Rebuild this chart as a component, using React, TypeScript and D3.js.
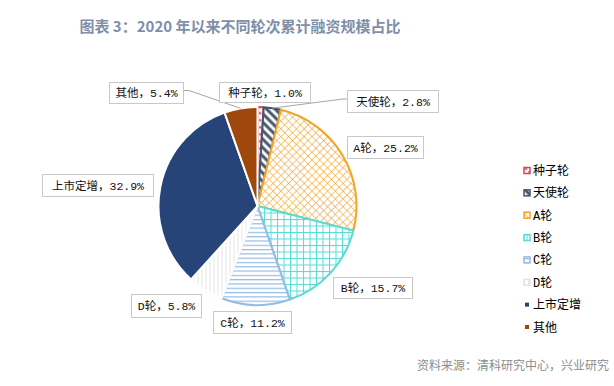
import * as d3 from "d3";

const rounds = ["种子轮", "天使轮", "A轮", "B轮", "C轮", "D轮", "上市定增", "其他"];
const shares = [1.0, 2.8, 25.2, 15.7, 11.2, 5.8, 32.9, 5.4];
const colors = ["#D2455B", "#44546A", "#F5A325", "#55DCD6", "#94BCE3", "#E4E4E4", "#264478", "#9E480E"];
const fills = ["url(#p-seed)", "url(#p-angel)", "url(#p-a)", "url(#p-b)", "url(#p-c)", "url(#p-d)", "#264478", "#9E480E"];

// label boxes: left, top, width, height
const labelBoxes = [
  [219, 82, 91, 20],
  [347, 90, 91, 22],
  [347, 136, 76, 22],
  [333, 277, 79, 21],
  [213, 311, 78, 22],
  [131, 294, 70, 23],
  [42, 174, 111, 22],
  [109, 82, 74, 21],
];

const width = 614, height = 386;
const cx = 257.5, cy = 206, radius = 99;

export default function App() {
  const pie = d3.pie<number>().sort(null).startAngle(0).endAngle(2 * Math.PI);
  const arcs = pie(shares);
  const arc = d3.arc<d3.PieArcDatum<number>>().innerRadius(0).outerRadius(radius);
  const edge = (a: d3.PieArcDatum<number>) => {
    const m = (a.startAngle + a.endAngle) / 2;
    return [cx + radius * Math.sin(m), cy - radius * Math.cos(m)];
  };

  const legendY = d3.scalePoint<number>().domain(d3.range(rounds.length)).range([170.5, 327]);
  const labelFont = "'Liberation Mono', 'Noto Sans CJK SC', monospace";

  return (
    <svg width={width} height={height} style={{ position: "absolute", left: 0, top: 0, background: "#fff" }}>
      <defs>
        <pattern id="p-seed" width="5" height="5" patternUnits="userSpaceOnUse" patternTransform="rotate(-45)">
          <rect width="5" height="5" fill="#fff" />
          <line x1="2.5" y1="0" x2="2.5" y2="2.5" stroke={colors[0]} strokeWidth="2" />
        </pattern>
        <pattern id="p-angel" width="6" height="6" patternUnits="userSpaceOnUse" patternTransform="rotate(-45)">
          <rect width="6" height="6" fill="#fff" />
          <line x1="3" y1="0" x2="3" y2="6" stroke={colors[1]} strokeWidth="3" />
        </pattern>
        <pattern id="p-a" width="5.5" height="5.5" patternUnits="userSpaceOnUse" patternTransform="rotate(45)">
          <rect width="5.5" height="5.5" fill="#fff" />
          <line x1="0" y1="0" x2="0" y2="5.5" stroke={colors[2]} strokeWidth="1.2" />
          <line x1="0" y1="0" x2="5.5" y2="0" stroke={colors[2]} strokeWidth="1.2" />
        </pattern>
        <pattern id="p-b" width="6.5" height="6.5" patternUnits="userSpaceOnUse">
          <rect width="6.5" height="6.5" fill="#fff" />
          <line x1="0.5" y1="0" x2="0.5" y2="6.5" stroke={colors[3]} strokeWidth="1" />
          <line x1="0" y1="0.5" x2="6.5" y2="0.5" stroke={colors[3]} strokeWidth="1" />
        </pattern>
        <pattern id="p-c" width="4" height="4.3" patternUnits="userSpaceOnUse">
          <rect width="4" height="4.3" fill="#fff" />
          <line x1="0" y1="0.6" x2="4" y2="0.6" stroke={colors[4]} strokeWidth="1.2" />
        </pattern>
        <pattern id="p-d" width="4" height="4" patternUnits="userSpaceOnUse">
          <rect width="4" height="4" fill="#fff" />
          <line x1="0.5" y1="0" x2="0.5" y2="4" stroke={colors[5]} strokeWidth="1" />
        </pattern>
      </defs>

      <text x={240} y={32} textAnchor="middle" fontFamily="'Noto Sans CJK SC', sans-serif" fontSize={15} fontWeight="bold" fill="#7F8FA8">
        图表 3：2020 年以来不同轮次累计融资规模占比
      </text>

      <g>
        {arcs.map((a, i) => (
          <path
            key={i}
            d={arc(a) || ""}
            transform={`translate(${cx},${cy})`}
            fill={fills[i]}
            stroke={i >= 5 ? "#fff" : colors[i]}
            strokeWidth={2}
            strokeLinejoin="round"
          />
        ))}
      </g>

      {/* leader lines */}
      {[1, 7].map(i => {
        const [sx, sy] = edge(arcs[i]);
        const [l, t, w, h] = labelBoxes[i];
        const ex = i === 7 ? l + w : l;
        const ey = t + h / 2 - 2;
        const bx = i === 7 ? ex + 6 : ex - 4;
        return <polyline key={i} points={`${sx},${sy} ${bx},${ey} ${ex},${ey}`} fill="none" stroke="#A6A6A6" strokeWidth={1} />;
      })}

      {arcs.map((a, i) => {
        const [l, t, w, h] = labelBoxes[i];
        return (
          <g key={i}>
            <rect x={l + 0.5} y={t + 0.5} width={w} height={h} fill="#fff" stroke="#C8C8C8" strokeWidth={1} />
            <text x={l + w / 2 + 0.5} y={t + h / 2 + 4.5} textAnchor="middle" fontFamily={labelFont} fontSize={11.5} fill="#111">
              {`${rounds[i]}，${a.data.toFixed(1)}%`}
            </text>
          </g>
        );
      })}

      <g>
        {rounds.map((r, i) => {
          const y = legendY(i) as number;
          const big = i < 6;
          const s = big ? 6 : 4;
          return (
            <g key={r}>
              <rect
                x={big ? 524 : 525}
                y={y - s / 2}
                width={s}
                height={s}
                fill={big ? fills[i] : colors[i]}
                stroke={big ? colors[i] : "none"}
                strokeWidth={1.5}
              />
              <text x={533} y={y + 4.5} fontFamily={labelFont} fontSize={12} fill="#000">{r}</text>
            </g>
          );
        })}
      </g>

      <text x={609} y={370} textAnchor="end" fontFamily="'Noto Sans CJK SC', sans-serif" fontSize={12} fill="#8C8C8C">
        资料来源：清科研究中心，兴业研究
      </text>
    </svg>
  );
}
